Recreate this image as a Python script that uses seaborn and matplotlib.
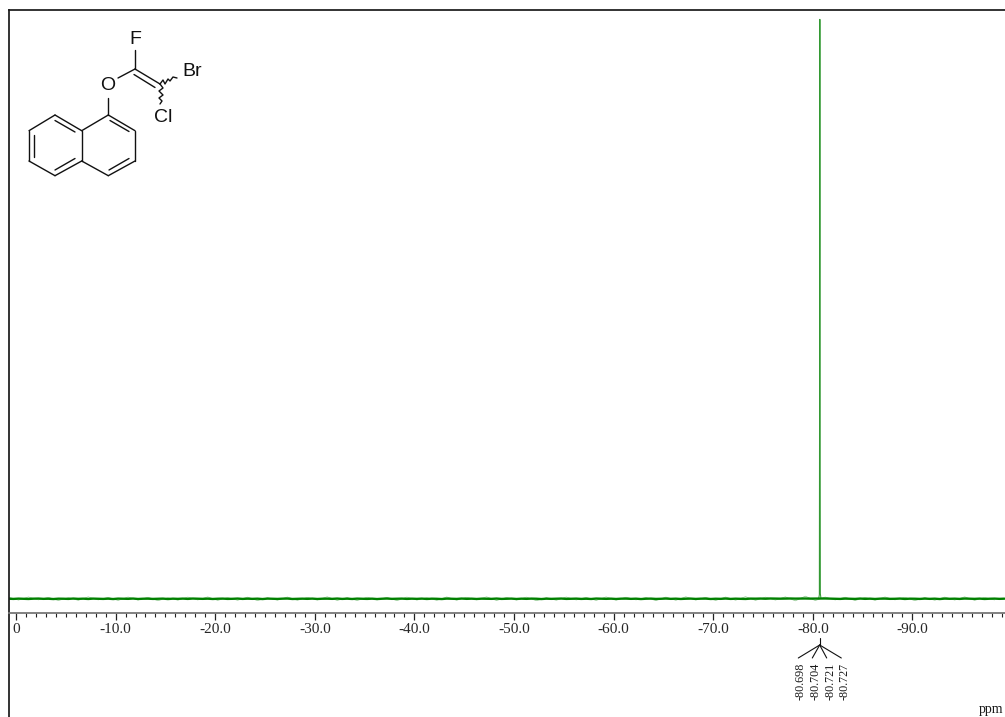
import matplotlib
matplotlib.use("Agg")
import matplotlib.pyplot as plt
import numpy as np
import pandas as pd
import seaborn as sns

# ---- spectrum values (ppm, relative intensity) ----
baseline_start = 0.75
baseline_step = -0.5
baseline_values = [
 0.01,-0.02,0.03,0.00,-0.03,0.02,0.04,-0.01,0.01,-0.04,0.02,0.01,-0.02,0.04,-0.01,0.02,-0.03,0.03,0.00,-0.02,
 0.02,-0.04,0.03,0.01,-0.01,0.04,-0.03,0.01,0.02,-0.02,0.00,0.03,-0.04,0.02,-0.01,0.03,-0.02,0.04,0.01,-0.01,
 0.02,-0.03,0.01,0.03,-0.02,0.00,0.04,-0.02,0.02,-0.01,0.02,-0.04,0.03,0.01,-0.02,0.02,0.04,-0.03,0.00,0.02,
 -0.01,0.03,-0.03,0.01,0.02,-0.01,0.04,-0.02,0.02,-0.03,0.03,0.00,-0.02,0.02,-0.04,0.01,0.04,-0.01,0.01,0.03,
 -0.02,0.02,-0.01,0.03,-0.03,0.02,0.00,-0.04,0.03,0.01,-0.02,0.04,-0.01,0.02,-0.03,0.02,0.00,-0.01,0.04,-0.02,
 0.01,0.03,-0.03,0.02,-0.01,0.03,0.01,-0.04,0.02,-0.01,0.02,0.04,-0.02,0.00,0.03,-0.02,0.01,-0.03,0.04,0.01,
 -0.01,0.02,-0.03,0.02,0.03,-0.01,0.02,-0.04,0.01,0.03,-0.02,0.00,0.04,-0.01,0.02,-0.03,0.01,0.03,-0.02,0.02,
 0.03,-0.03,0.01,-0.01,0.04,-0.02,0.02,0.00,-0.03,0.03,0.02,0.04,0.01,0.05,0.03,0.02,0.04,0.05,0.03,0.04,
 0.05,0.03,0.04,0.06,0.05,0.03,0.02,-0.02,0.03,0.01,-0.02,0.04,-0.01,0.02,-0.03,0.02,0.03,-0.01,0.00,0.04,
 -0.03,0.02,0.01,-0.02,0.03,-0.01,0.02,-0.04,0.03,0.00,0.02,-0.02,0.04,0.01,-0.01,0.03,-0.03,0.01,0.03,-0.01,
 0.02,
]
fuzz_step = -1.0
fuzz_values = [
 0.28,-0.22,0.31,-0.18,0.25,-0.30,0.20,-0.26,0.33,-0.19,0.24,-0.28,0.30,-0.21,0.26,-0.33,0.19,-0.24,0.29,-0.20,
 0.32,-0.27,0.22,-0.25,0.28,-0.31,0.18,-0.23,0.30,-0.26,0.24,-0.20,0.34,-0.28,0.21,-0.30,0.27,-0.19,0.25,-0.32,
 0.29,-0.22,0.20,-0.27,0.31,-0.24,0.26,-0.18,0.33,-0.29,0.23,-0.21,0.28,-0.33,0.19,-0.25,0.30,-0.20,0.24,-0.28,
 0.32,-0.23,0.27,-0.19,0.22,-0.31,0.29,-0.26,0.34,-0.21,0.25,-0.29,0.30,-0.24,0.36,-0.27,0.28,-0.22,0.33,-0.35,
 0.45,-0.30,0.30,-0.20,0.27,-0.29,0.23,-0.24,0.31,-0.19,0.26,-0.32,0.21,-0.25,0.29,-0.22,0.33,-0.27,0.24,-0.20,
]
peak_ppm = [-80.60, -80.66, -80.698, -80.704, -80.712, -80.721, -80.727, -80.76, -80.82]
peak_values = [0.1, 0.7, 62.0, 82.0, 100.0, 78.0, 55.0, 0.9, 0.1]

major_ticks = [0, -10, -20, -30, -40, -50, -60, -70, -80, -90]
major_labels = ["0", "-10.0", "-20.0", "-30.0", "-40.0", "-50.0", "-60.0", "-70.0", "-80.0", "-90.0"]
peak_labels = ["-80.698", "-80.704", "-80.721", "-80.727"]
unit_label = "ppm"

# ---- structure drawing, in picture pixels ----
ring_bonds = [
 [(108.3,115),(135,130.7)], [(135,130.7),(135,161)], [(135,161),(108.3,175.7)],
 [(108.3,175.7),(81.7,161)], [(81.7,161),(81.7,130.7)], [(81.7,130.7),(108.3,115)],
 [(81.7,130.7),(55,115)], [(55,115),(29,130.7)], [(29,130.7),(29,161)],
 [(29,161),(55,175.7)], [(55,175.7),(81.7,161)],
 [(110,120.5),(129,131.5)], [(129,158.5),(109,170)], [(55,120.5),(75,132)],
 [(33.5,135),(33.5,157)], [(55,170),(75,158.5)],
 [(108.3,115),(108.3,98)], [(118,78),(135,69)], [(135,69),(135,50)],
 [(135,69),(160,84)], [(134,74.5),(155,87.5)],
]
wavy_a = [(160,84),(163,80),(165,84),(168,79),(170,81),(173,77),(177,78)]
wavy_b = [(160,84),(163,88),(159,91),(163,95),(159,98),(162,101),(160,104)]
atom_labels = [("F",135,39),("O",107.5,86),("Br",192,71),("Cl",163.5,117)]
tree_lines = [
 [(819.7,638),(819.7,645)], [(819.7,645),(798.3,658)], [(819.7,645),(812.3,658)],
 [(819.7,645),(826.7,658)], [(819.7,645),(841.3,658)],
]
peak_label_x = [801, 815.7, 830.3, 845]

GREEN = "#008000"
sns.set_theme(style="white")
plt.rcParams["font.family"] = ["Liberation Serif", "DejaVu Serif"]

fig = plt.figure(figsize=(10.05, 7.17), dpi=100, facecolor="white")
L, T = 8.5, 9.5
ax = fig.add_axes([L/1005, 0, (1005-L)/1005, (717-T)/717])

base_ppm = baseline_start + baseline_step*np.arange(len(baseline_values))
fuzz_ppm = baseline_start + fuzz_step*np.arange(len(fuzz_values))
base_df = pd.DataFrame({"ppm": base_ppm, "intensity": baseline_values})
fuzz_df = pd.DataFrame({"ppm": fuzz_ppm, "intensity": fuzz_values})
peak_df = pd.DataFrame({"ppm": peak_ppm, "intensity": peak_values})
sns.lineplot(data=fuzz_df, x="ppm", y="intensity", color=GREEN, lw=0.5, alpha=0.45, ax=ax,
             estimator=None, sort=False)
sns.lineplot(data=base_df, x="ppm", y="intensity", color=GREEN, lw=1.7, ax=ax,
             estimator=None, sort=False)
sns.lineplot(data=peak_df, x="ppm", y="intensity", color=GREEN, lw=0.75, alpha=0.8, ax=ax,
             estimator=None, sort=False)

ax.set_xlim(0.753, -99.3)
ax.set_ylim(-20.4, 101.7)
ax.set_xlabel("")
ax.set_ylabel("")
ax.set_yticks([])
ax.set_xticks(major_ticks)
ax.set_xticklabels(major_labels, fontsize=10.4, color="#1a1a1a")
ax.set_xticks(np.arange(0, -100, -1), minor=True)
ax.tick_params(axis="x", which="major", direction="out", length=4.8, width=0.9,
               color="#222222", pad=2.2, bottom=True)
ax.tick_params(axis="x", which="minor", direction="out", length=2.6, width=0.8,
               color="#222222", bottom=True)
ax.spines["right"].set_visible(False)
ax.spines["bottom"].set_position(("data", -2.5))
ax.spines["bottom"].set_color("#777777")
ax.spines["bottom"].set_linewidth(1.3)
ax.spines["left"].set_color("#1a1a1a")
ax.spines["top"].set_color("#1a1a1a")
ax.spines["left"].set_linewidth(1.25)
ax.spines["top"].set_linewidth(1.25)

ov = fig.add_axes([0, 0, 1, 1], facecolor="none")
ov.set_xlim(0, 1005)
ov.set_ylim(717, 0)
ov.axis("off")
for seg in ring_bonds + [wavy_a, wavy_b]:
    xs, ys = zip(*seg)
    ov.plot(xs, ys, color="#111111", lw=1.0, solid_capstyle="round")
for text, x, y in atom_labels:
    ov.text(x, y, text, family="Liberation Sans", fontsize=14, color="#111111",
            ha="center", va="center")
for seg in tree_lines:
    xs, ys = zip(*seg)
    ov.plot(xs, ys, color="#111111", lw=0.8)
for text, x in zip(peak_labels, peak_label_x):
    ov.text(x, 681.5, text, rotation=90, fontsize=8.7, color="#1a1a1a",
            ha="center", va="center")
ov.text(991.5, 709.5, unit_label, fontsize=10, color="#1a1a1a", ha="center", va="center")

fig.savefig("out.png", dpi=100)
